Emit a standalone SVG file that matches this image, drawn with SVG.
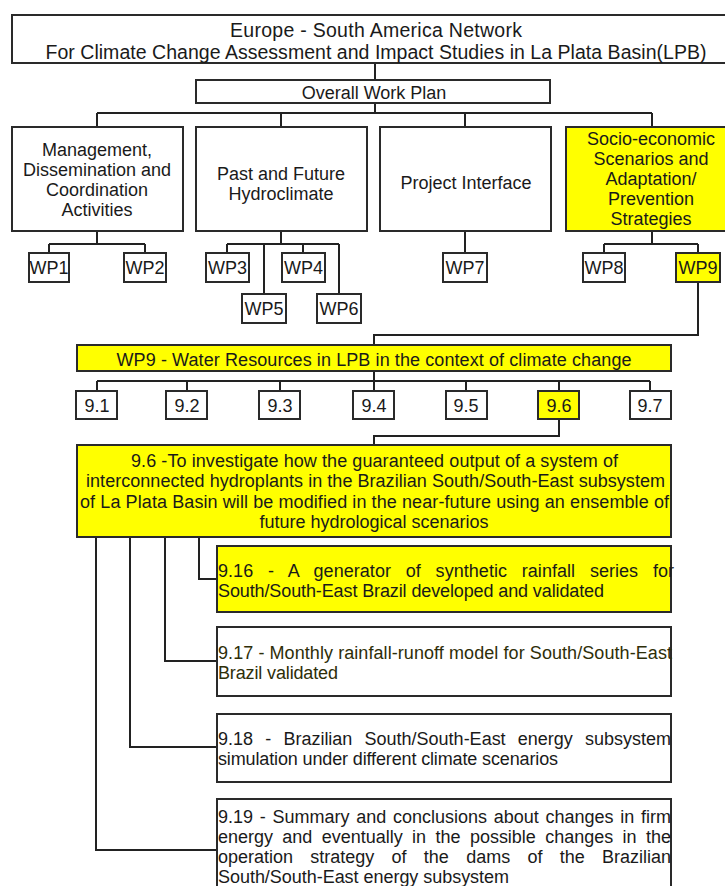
<svg xmlns="http://www.w3.org/2000/svg" width="725" height="886" viewBox="0 0 725 886">
<style>
.b{fill:#fff;stroke:#2a2a2a;stroke-width:2}
.y{fill:#ffff00;stroke:#2a2a2a;stroke-width:2}
.t{font-family:"Liberation Sans",Arial,sans-serif;font-size:18px;fill:#1a1a1a}
.h{font-size:19.5px}
.c{text-anchor:middle}
.ol{fill:#2e2e08}
#connectors path{fill:none;stroke:#222;stroke-width:2}
</style>
<rect width="725" height="886" fill="#fff"/>
<g id="connectors">
<path d="M375 63V80M375 103V113M97 113H652M97 113V127M281 113V127M465 113V127M652 113V127"/>
<path d="M97 231V244M49 244H145M49 244V253M145 244V253"/>
<path d="M281 231V244M227 244H339M227 244V253M303 244V253M264 244V294M339 244V294"/>
<path d="M465 231V253"/>
<path d="M652 231V244M604 244H698M604 244V253M698 244V253"/>
<path d="M698 282V335H374V345"/>
<path d="M374 371V381M97 381H650M97 381V391M187 381V391M280 381V391M374 381V391M466 381V391M559 381V391M650 381V391"/>
<path d="M559 419V436H374V445"/>
<path d="M199 537V579H217M165 537V661H217M130 537V747H217M96 537V850H217"/>
</g>
<g id="title"><rect class="b" x="12" y="15" width="726" height="48"/>
<text class="t h c" x="376" y="37" textLength="292" lengthAdjust="spacing">Europe - South America Network</text>
<text class="t h c" x="376" y="59" textLength="661" lengthAdjust="spacing">For Climate Change Assessment and Impact Studies in La Plata Basin(LPB)</text></g>
<g id="overall"><rect class="b" x="196" y="80" width="354" height="23"/>
<text class="t c" x="374" y="99">Overall Work Plan</text></g>
<g id="management"><rect class="b" x="12" y="127" width="171" height="104"/>
<text class="t c" x="97" y="156">Management,</text>
<text class="t c" x="97" y="176">Dissemination and</text>
<text class="t c" x="97" y="196">Coordination</text>
<text class="t c" x="97" y="216">Activities</text></g>
<g id="hydroclimate"><rect class="b" x="196" y="127" width="171" height="104"/>
<text class="t c" x="281" y="180">Past and Future</text>
<text class="t c" x="281" y="200">Hydroclimate</text></g>
<g id="interface"><rect class="b" x="380" y="127" width="171" height="104"/>
<text class="t c" x="466" y="189">Project Interface</text></g>
<g id="socio"><rect class="y" x="566" y="127" width="172" height="104"/>
<text class="t c" x="651" y="145">Socio-economic</text>
<text class="t c" x="651" y="165">Scenarios and</text>
<text class="t c" x="651" y="185">Adaptation/</text>
<text class="t c" x="651" y="205">Prevention</text>
<text class="t c" x="651" y="225">Strategies</text></g>
<g id="wp1"><rect class="b" x="29" y="253" width="40" height="29"/><text class="t c" x="49" y="274">WP1</text></g>
<g id="wp2"><rect class="b" x="124" y="253" width="42" height="29"/><text class="t c" x="145" y="274">WP2</text></g>
<g id="wp3"><rect class="b" x="206" y="253" width="43" height="29"/><text class="t c" x="227.5" y="274">WP3</text></g>
<g id="wp4"><rect class="b" x="282" y="253" width="43" height="29"/><text class="t c" x="303.5" y="274">WP4</text></g>
<g id="wp5"><rect class="b" x="242" y="294" width="44" height="29"/><text class="t c" x="264" y="315">WP5</text></g>
<g id="wp6"><rect class="b" x="317" y="294" width="44" height="29"/><text class="t c" x="339" y="315">WP6</text></g>
<g id="wp7"><rect class="b" x="443" y="253" width="44" height="29"/><text class="t c" x="465" y="274">WP7</text></g>
<g id="wp8"><rect class="b" x="583" y="253" width="42" height="29"/><text class="t c" x="604" y="274">WP8</text></g>
<g id="wp9"><rect class="y" x="676" y="253" width="44" height="29"/><text class="t c" x="698" y="274">WP9</text></g>
<g id="wp9-detail"><rect class="y" x="77" y="345" width="594" height="26"/>
<text class="t c" x="374" y="366" textLength="515" lengthAdjust="spacing">WP9 - Water Resources in LPB in the context of climate change</text></g>
<g id="t91"><rect class="b" x="76" y="391" width="41" height="28"/><text class="t c" x="97" y="412">9.1</text></g>
<g id="t92"><rect class="b" x="166" y="391" width="41" height="28"/><text class="t c" x="187" y="412">9.2</text></g>
<g id="t93"><rect class="b" x="259" y="391" width="41" height="28"/><text class="t c" x="280" y="412">9.3</text></g>
<g id="t94"><rect class="b" x="353" y="391" width="41" height="28"/><text class="t c" x="374" y="412">9.4</text></g>
<g id="t95"><rect class="b" x="446" y="391" width="41" height="28"/><text class="t c" x="466" y="412">9.5</text></g>
<g id="t96"><rect class="y" x="538" y="391" width="41" height="28"/><text class="t c" x="559" y="412">9.6</text></g>
<g id="t97"><rect class="b" x="630" y="391" width="41" height="28"/><text class="t c" x="650" y="412">9.7</text></g>
<g id="task96"><rect class="y" x="77" y="445" width="594" height="92"/>
<text class="t c" x="374.5" y="467" textLength="487" lengthAdjust="spacing">9.6 -To investigate how the guaranteed output of a system of</text>
<text class="t c" x="375.5" y="487" textLength="579" lengthAdjust="spacing">interconnected hydroplants in the Brazilian South/South-East subsystem</text>
<text class="t c" x="374.5" y="508" textLength="589" lengthAdjust="spacing">of La Plata Basin will be modified in the near-future using an ensemble of</text>
<text class="t c" x="374" y="528">future hydrological scenarios</text></g>
<g id="d916"><rect class="y" x="217" y="546" width="454" height="66"/>
<text class="t" x="218" y="577" word-spacing="9.7" textLength="456" lengthAdjust="spacing">9.16 - A generator of synthetic rainfall series for</text>
<text class="t" x="218" y="597" textLength="386" lengthAdjust="spacing">South/South-East Brazil developed and validated</text></g>
<g id="d917"><rect class="b" x="217" y="627" width="454" height="69"/>
<text class="t ol" x="218" y="659" textLength="454" lengthAdjust="spacing">9.17 - Monthly rainfall-runoff model for South/South-East</text>
<text class="t ol" x="218" y="679" textLength="120" lengthAdjust="spacing">Brazil validated</text></g>
<g id="d918"><rect class="b" x="217" y="714" width="454" height="68"/>
<text class="t" x="218" y="745" word-spacing="7.2" textLength="453" lengthAdjust="spacing">9.18 - Brazilian South/South-East energy subsystem</text>
<text class="t" x="218" y="765" textLength="340" lengthAdjust="spacing">simulation under different climate scenarios</text></g>
<g id="d919"><rect class="b" x="217" y="799" width="454" height="100"/>
<text class="t" x="218" y="823" word-spacing="1.7" textLength="453" lengthAdjust="spacing">9.19 - Summary and conclusions about changes in firm</text>
<text class="t" x="218" y="843" word-spacing="4.4" textLength="453" lengthAdjust="spacing">energy and eventually in the possible changes in the</text>
<text class="t" x="218" y="863" word-spacing="12.3" textLength="453" lengthAdjust="spacing">operation strategy of the dams of the Brazilian</text>
<text class="t" x="218" y="883" textLength="291" lengthAdjust="spacing">South/South-East energy subsystem</text></g>
</svg>
